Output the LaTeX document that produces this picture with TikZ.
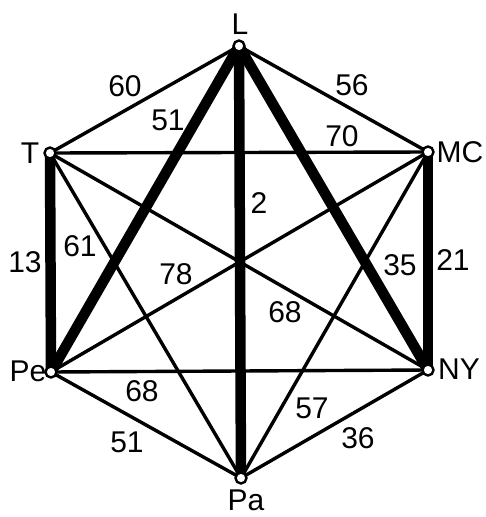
\documentclass[tikz,border=0pt]{standalone}
\usepackage{fontspec}
\setmainfont{Liberation Sans}
\begin{document}
\begin{tikzpicture}[x=1pt,y=-1pt,
  thinedge/.style={line width=3.4pt},
  thickedge/.style={line width=10.5pt},
  vert/.style={circle,draw,fill=white,line width=2.4pt,minimum size=11pt,inner sep=0pt},
  lbl/.style={inner sep=0pt,font=\fontsize{30}{30}\selectfont},
  wt/.style={inner sep=0pt,font=\fontsize{30}{30}\selectfont}]
\useasboundingbox (0,0) rectangle (486,517);
\coordinate (L) at (239,46);
\coordinate (T) at (50,153);
\coordinate (MC) at (428,152);
\coordinate (Pe) at (51,372);
\coordinate (NY) at (428,370);
\coordinate (Pa) at (241,478);
% thin edges
\draw[thinedge] (L) -- (T);
\draw[thinedge] (L) -- (MC);
\draw[thinedge] (T) -- (MC);
\draw[thinedge] (T) -- (NY);
\draw[thinedge] (T) -- (Pa);
\draw[thinedge] (MC) -- (Pe);
\draw[thinedge] (MC) -- (Pa);
\draw[thinedge] (Pe) -- (NY);
\draw[thinedge] (Pe) -- (Pa);
\draw[thinedge] (NY) -- (Pa);
% thick edges
\draw[thickedge] (L) -- (Pe);
\draw[thickedge] (L) -- (Pa);
\draw[thickedge] (L) -- (NY);
\draw[thickedge] (T) -- (Pe);
\draw[thickedge] (MC) -- (NY);
% vertices
\node[vert] (vL) at (L) {};
\node[vert] (vT) at (T) {};
\node[vert] (vMC) at (MC) {};
\node[vert] (vPe) at (Pe) {};
\node[vert] (vNY) at (NY) {};
\node[vert] (vPa) at (Pa) {};
% vertex labels
\node[lbl] (tL) at (240,24) {L};
\node[lbl] (tT) at (30,153) {T};
\node[lbl] (tMC) at (460,152) {MC};
\node[lbl] (tPe) at (28,371) {Pe};
\node[lbl] (tNY) at (459,369) {NY};
\node[lbl] (tPa) at (246,500) {Pa};
% weights
\node[wt] (w60) at (125,86) {60};
\node[wt] (w56) at (352,85) {56};
\node[wt] (w51a) at (168,120) {51};
\node[wt] (w70) at (342,136) {70};
\node[wt] (w2) at (259,203) {2};
\node[wt] (w13) at (25,262) {13};
\node[wt] (w61) at (80,246) {61};
\node[wt] (w78) at (176,274) {78};
\node[wt] (w35) at (400,265) {35};
\node[wt] (w21) at (453,260) {21};
\node[wt] (w68a) at (285,312) {68};
\node[wt] (w68b) at (142,391) {68};
\node[wt] (w57) at (312,408) {57};
\node[wt] (w51b) at (127,442) {51};
\node[wt] (w36) at (358,438) {36};
\end{tikzpicture}
\end{document}
